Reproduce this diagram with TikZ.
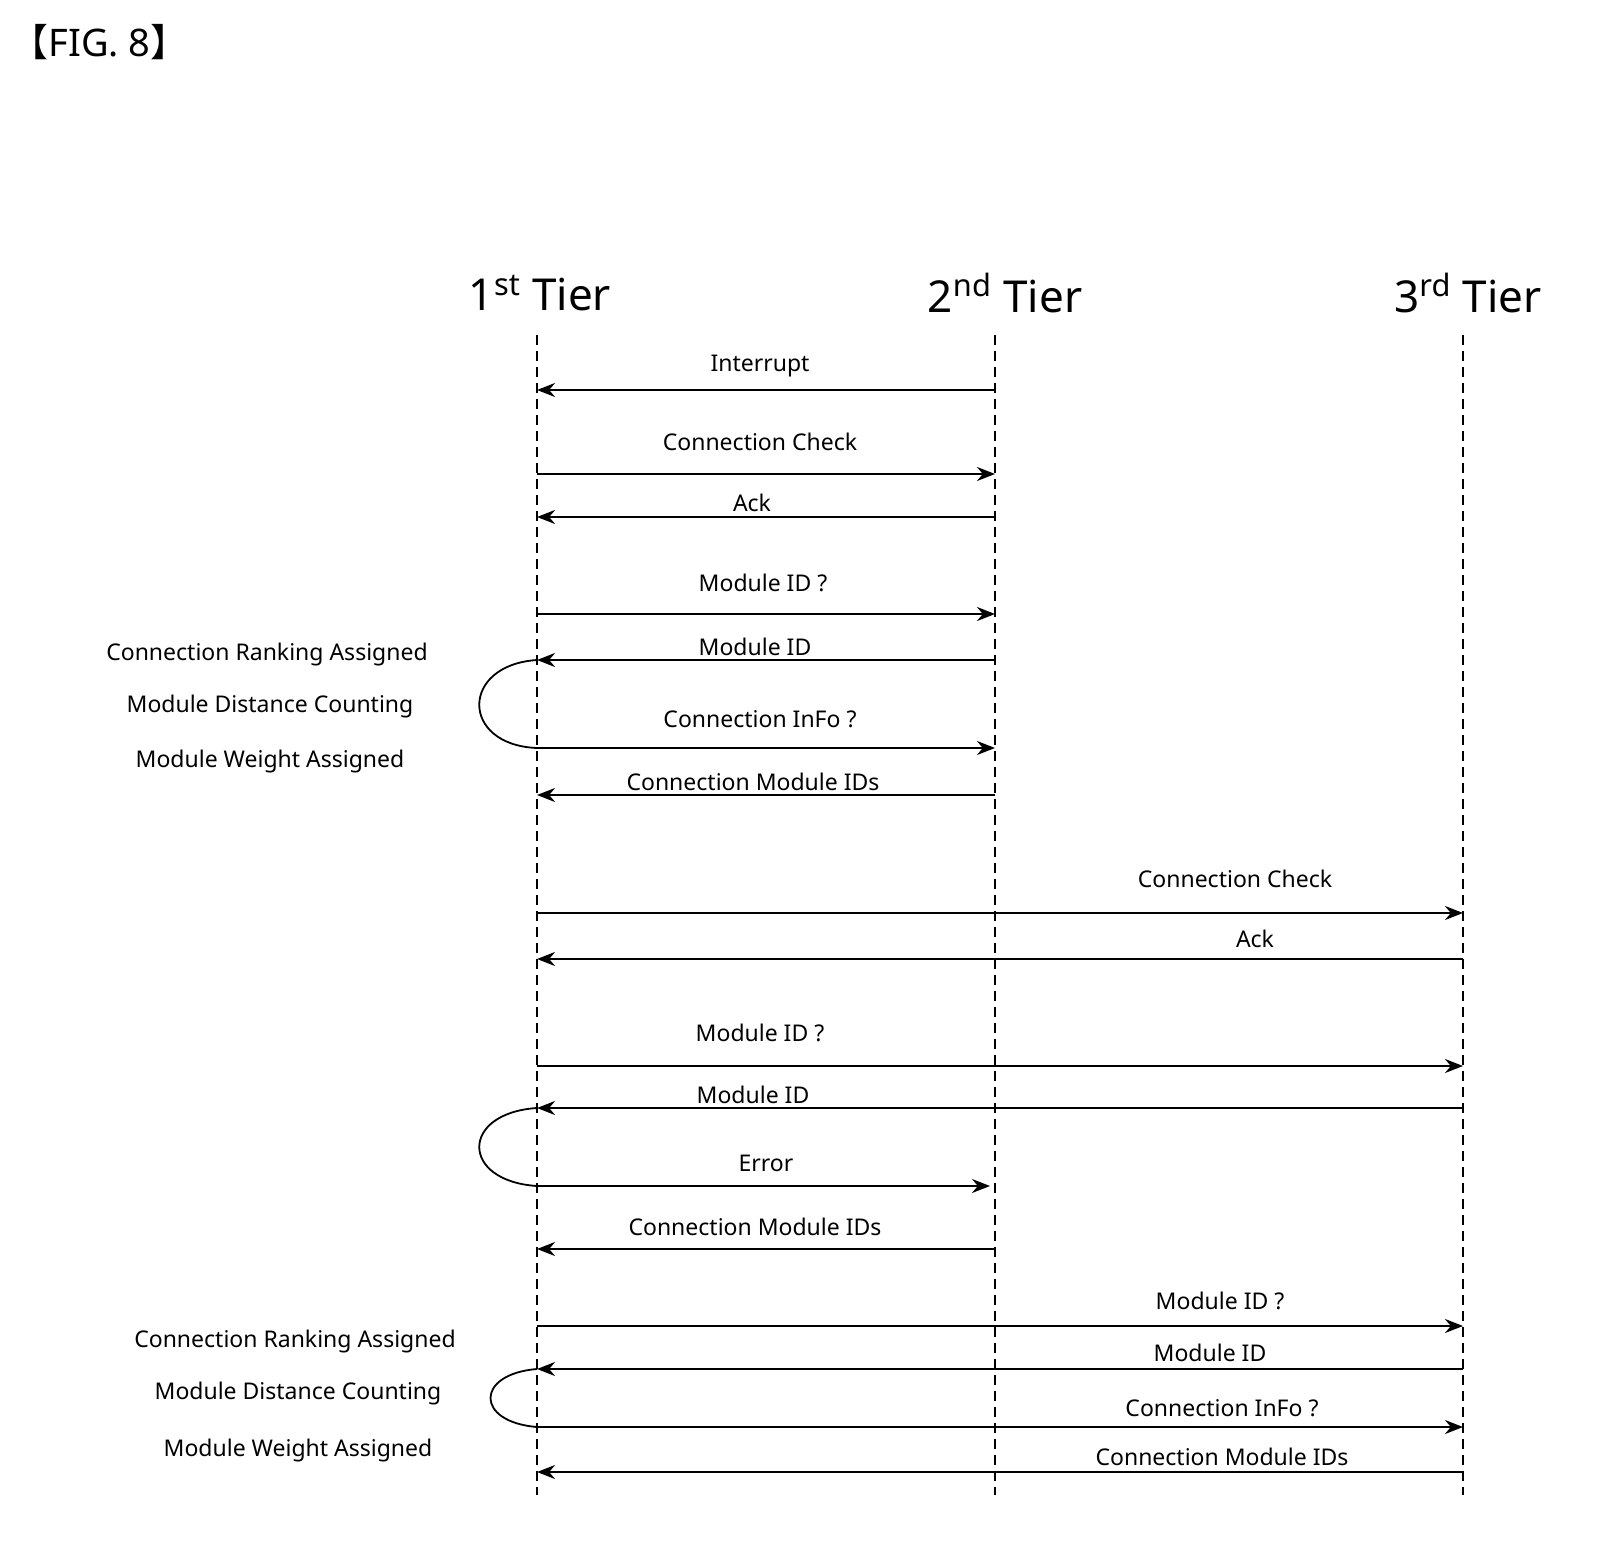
\documentclass[tikz,border=0pt]{standalone}
\usepackage{fontspec}
\setmainfont{Noto Sans}
\newfontfamily\cjkf{Noto Sans CJK KR}
\usetikzlibrary{arrows.meta}
\begin{document}
\begin{tikzpicture}[x=0.5pt,y=-0.5pt,
  life/.style={dashed,line width=0.9pt,dash pattern=on 5pt off 3pt},
  msg/.style={line width=1.1pt,-{Stealth[length=9pt,width=7pt]}},
  lab/.style={font=\fontsize{11.5}{13}\selectfont,inner sep=0pt},
  hd/.style={font=\fontsize{22}{26}\selectfont,inner sep=0pt},
  loop/.style={line width=0.9pt}]
\useasboundingbox (0,0) rectangle (1605,1551);
\node[anchor=west,font=\fontsize{19}{22}\selectfont,inner sep=0pt] (fig) at (10,42) {{\cjkf 【}FIG. 8{\cjkf 】}};
\node[hd] (h1) at (540,293) {1\textsuperscript{st} Tier};
\node[hd] (h2) at (1005,293) {2\textsuperscript{nd} Tier};
\node[hd] (h3) at (1468,293) {3\textsuperscript{rd} Tier};
\coordinate (t1) at (537,335); \coordinate (e1) at (537,1495);
\coordinate (t2) at (995,335); \coordinate (e2) at (995,1495);
\coordinate (t3) at (1463,335); \coordinate (e3) at (1463,1495);
\draw[life] (t1) -- (e1); \draw[life] (t2) -- (e2); \draw[life] (t3) -- (e3);
\foreach \i/\y/\s/\d/\t/\lx/\ly in {
 1/390/995/537/Interrupt/760/366,
 2/474/537/995/Connection Check/760/442,
 3/517/995/537/Ack/752/503,
 4/614/537/995/Module ID ?/763/583,
 5/660/995/537/Module ID/755/647,
 6/748/537/995/Connection InFo ?/760/719,
 7/795/995/537/Connection Module IDs/753/782,
 8/913/537/1463/Connection Check/1235/879,
 9/959/1463/537/Ack/1255/939,
 10/1066/537/1463/Module ID ?/760/1033,
 11/1108/1463/537/Module ID/753/1095,
 12/1186/537/990/Error/766/1163,
 13/1249/995/537/Connection Module IDs/755/1227,
 14/1326/537/1463/Module ID ?/1220/1301,
 15/1369/1463/537/Module ID/1210/1353,
 16/1427/537/1463/Connection InFo ?/1222/1408,
 17/1472/1463/537/Connection Module IDs/1222/1457}
{
 \coordinate (s\i) at (\s,\y); \coordinate (d\i) at (\d,\y);
 \draw[msg] (s\i) -- (d\i);
 \node[lab] (l\i) at (\lx,\ly) {\t};
}
\draw[loop] (d5) .. controls (460,665) and (460,745) .. (s6);
\draw[loop] (d11) .. controls (460,1113) and (460,1181) .. (s12);
\draw[loop] (d15) .. controls (475,1374) and (475,1422) .. (s16);
\node[lab] (c1) at (267,655) {Connection Ranking Assigned};
\node[lab] (c2) at (270,707) {Module Distance Counting};
\node[lab] (c3) at (270,762) {Module Weight Assigned};
\node[lab] (c4) at (295,1342) {Connection Ranking Assigned};
\node[lab] (c5) at (298,1394) {Module Distance Counting};
\node[lab] (c6) at (298,1451) {Module Weight Assigned};
\end{tikzpicture}
\end{document}
